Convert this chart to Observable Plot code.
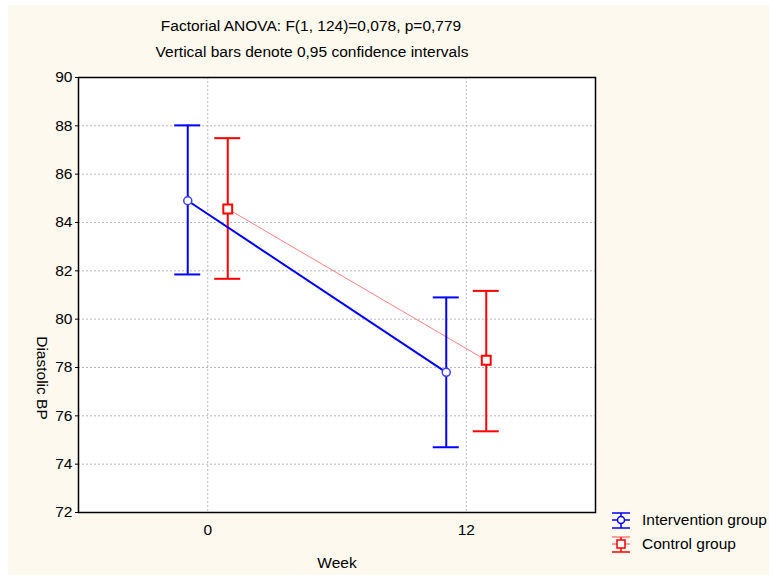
<!DOCTYPE html>
<html>
<head>
<meta charset="utf-8">
<script src="https://cdn.jsdelivr.net/npm/d3@7"></script>
<script src="https://cdn.jsdelivr.net/npm/@observablehq/plot@0.6"></script>
<style>
  html, body { margin: 0; padding: 0; background: #ffffff; }
  #wrap { position: relative; width: 769px; height: 578px; overflow: hidden; font-family: "Liberation Sans", Arial, sans-serif; color: #000; }
  #cream { position: absolute; left: 8px; top: 5px; right: 0; bottom: 3px; background: #fdf9ef; }
  #chart { position: absolute; left: 0; top: 0; }
  .t { position: absolute; white-space: nowrap; font-size: 15.5px; line-height: 1; }
  #legend { position: absolute; left: 610px; top: 508px; }
  #chart svg text { font-size: 15.5px; }
</style>
</head>
<body>
<div id="wrap">
  <div id="cream"></div>
  <div id="chart"></div>
  <div class="t" id="title" style="left:311px; top:18px; transform:translateX(-50%);">Factorial ANOVA: F(1, 124)=0,078, p=0,779</div>
  <div class="t" id="subtitle" style="left:312px; top:44px; transform:translateX(-50%);">Vertical bars denote 0,95 confidence intervals</div>
  <div class="t" id="ylabel" style="left:42px; top:378px; transform:translate(-50%,-50%) rotate(90deg);">Diastolic BP</div>
  <div class="t" id="xlabel" style="left:337px; top:555px; transform:translateX(-50%);">Week</div>
  <div id="legend"></div>
</div>
<script>
// ---- data ----
const weeks = [0, 12];
const groups = ["Intervention group", "Control group"];
const interventionMean = [84.9, 77.8];
const interventionLow = [81.85, 74.7];
const interventionHigh = [88.02, 80.9];
const controlMean = [84.56, 78.3];
const controlLow = [81.67, 75.36];
const controlHigh = [87.49, 81.17];
const yTicks = [72, 74, 76, 78, 80, 82, 84, 86, 88, 90];
const groupColors = ["#0000ff", "#ff0000"];

const interv = weeks.map((w, i) => ({week: w, group: groups[0], mean: interventionMean[i], lo: interventionLow[i], hi: interventionHigh[i]}));
const ctrl = weeks.map((w, i) => ({week: w, group: groups[1], mean: controlMean[i], lo: controlLow[i], hi: controlHigh[i]}));

const capStyle = {strokeWidth: 2, insetLeft: -13, insetRight: -13};
const gridStyle = {stroke: "#b8b8b8", strokeOpacity: 1, strokeDasharray: "2,2", strokeWidth: 1};

const chart = Plot.plot({
  width: 769,
  height: 578,
  marginLeft: 78,
  marginRight: 174,
  marginTop: 77,
  marginBottom: 66,
  x: {domain: [-6, 18]},
  y: {domain: [72, 90]},
  style: {background: "transparent", fontFamily: "'Liberation Sans', Arial, sans-serif", fontSize: "15.5px", color: "#000", overflow: "visible"},
  marks: [
    Plot.frame({fill: "white", stroke: "none"}),
    Plot.gridY(yTicks, gridStyle),
    Plot.gridX(weeks, gridStyle),
    Plot.axisY(yTicks, {tickSize: 3, tickPadding: 3, label: null, fontSize: 15.5, stroke: "#000"}),
    Plot.axisX(weeks, {tickSize: 0, tickPadding: 11, label: null, fontSize: 15.5}),
    // control group
    Plot.line(ctrl, {x: "week", y: "mean", dx: 20, stroke: "#ff8080", strokeWidth: 1}),
    Plot.ruleX(ctrl, {x: "week", y1: "lo", y2: "hi", dx: 20, stroke: groupColors[1], strokeWidth: 2}),
    Plot.ruleY(ctrl, {y: "hi", x1: "week", x2: "week", dx: 20, stroke: groupColors[1], ...capStyle}),
    Plot.ruleY(ctrl, {y: "lo", x1: "week", x2: "week", dx: 20, stroke: groupColors[1], ...capStyle}),
    // intervention group
    Plot.line(interv, {x: "week", y: "mean", dx: -20, stroke: groupColors[0], strokeWidth: 2}),
    Plot.ruleX(interv, {x: "week", y1: "lo", y2: "hi", dx: -20, stroke: groupColors[0], strokeWidth: 2}),
    Plot.ruleY(interv, {y: "hi", x1: "week", x2: "week", dx: -20, stroke: groupColors[0], ...capStyle}),
    Plot.ruleY(interv, {y: "lo", x1: "week", x2: "week", dx: -20, stroke: groupColors[0], ...capStyle}),
    Plot.dot(ctrl, {x: "week", y: "mean", dx: 20, symbol: "square", r: 5, fill: "white", stroke: groupColors[1], strokeWidth: 2}),
    Plot.dot(interv, {x: "week", y: "mean", dx: -20, symbol: "circle", r: 4, fill: "white", stroke: "#3a3aff", strokeWidth: 1.5}),
    Plot.frame({stroke: "#000", strokeWidth: 1.5})
  ]
});
document.getElementById("chart").appendChild(chart);

// ---- legend ----
const lg = d3.select("#legend");
groups.forEach((g, i) => {
  const row = lg.append("div").style("display", "flex").style("align-items", "center").style("height", "24px");
  const s = row.append("svg").attr("width", 22).attr("height", 20).style("overflow", "visible");
  const c = groupColors[i];
  const light = i === 0 ? c : "#ff8080";
  s.append("line").attr("x1", 2).attr("x2", 20).attr("y1", 3).attr("y2", 3).attr("stroke", light).attr("stroke-width", 1.5);
  s.append("line").attr("x1", 2).attr("x2", 20).attr("y1", 10).attr("y2", 10).attr("stroke", light).attr("stroke-width", 1.5);
  s.append("line").attr("x1", 2).attr("x2", 20).attr("y1", 18).attr("y2", 18).attr("stroke", c).attr("stroke-width", 1.5);
  s.append("line").attr("x1", 11).attr("x2", 11).attr("y1", 3).attr("y2", 18).attr("stroke", c).attr("stroke-width", 1.5);
  if (i === 0) s.append("circle").attr("cx", 11).attr("cy", 10).attr("r", 3.5).attr("fill", "white").attr("stroke", c).attr("stroke-width", 1.5);
  else s.append("rect").attr("x", 7).attr("y", 6).attr("width", 8).attr("height", 8).attr("fill", "white").attr("stroke", c).attr("stroke-width", 1.5);
  row.append("span").style("font-size", "15.5px").style("margin-left", "10px").text(g);
});
</script>
</body>
</html>
